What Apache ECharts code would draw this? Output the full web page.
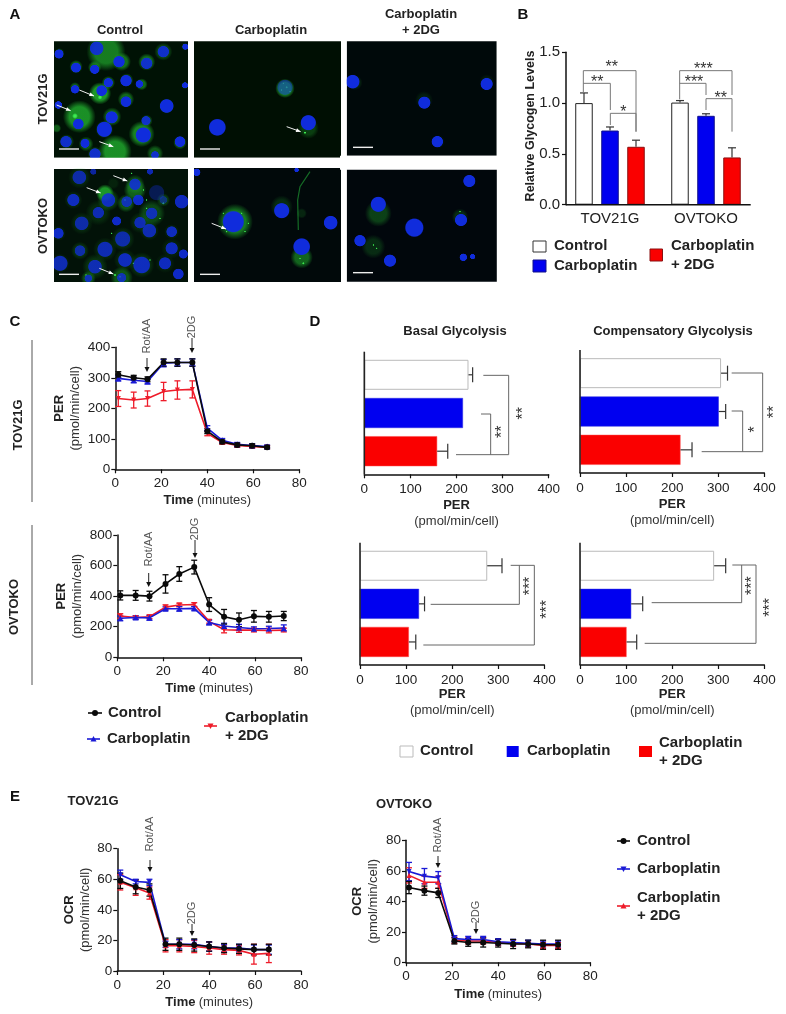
<!DOCTYPE html>
<html><head><meta charset="utf-8">
<style>html,body{margin:0;padding:0;background:#fff}#c{width:786px;height:1014px}</style>
<script src="https://cdn.jsdelivr.net/npm/echarts@6/dist/echarts.min.js"></script>
</head><body><div id="c"></div>
<script>
// ---------- data ----------
const groupNames = ['Control','Carboplatin','Carboplatin + 2DG'];
const cellLines = ['TOV21G','OVTOKO'];
const glycogenControl = [1.00,1.005];
const glycogenCarbo = [0.73,0.875];
const glycogenCarbo2dg = [0.57,0.465];
const glycogenControlErr = [0.10,0.02];
const glycogenCarboErr = [0.035,0.02];
const glycogenCarbo2dgErr = [0.065,0.095];

const time11 = [1.3,8,14,21,27,33.5,40,46.5,53,59.5,66];
const time12 = [1.3,8,14,21,27,33.5,40,46.5,53,59.5,66,72.5];

const perTovControl = [310,300,295,350,350,350,125,90,80,77,72];
const perTovControlErr = [10,8,8,12,12,12,8,6,6,6,5];
const perTovCarbo = [298,292,288,348,350,350,135,95,82,78,75];
const perTovCarboErr = [8,8,8,12,12,12,8,6,6,6,5];
const perTovCarbo2dg = [232,227,232,255,260,262,118,88,78,75,72];
const perTovCarbo2dgErr = [26,26,25,30,30,28,8,6,6,6,5];

const perOvtControl = [405,405,400,480,545,590,345,265,245,268,265,270];
const perOvtControlErr = [30,32,32,60,48,45,45,48,45,38,35,30];
const perOvtCarbo = [255,260,258,318,318,320,228,205,195,187,188,192];
const perOvtCarboErr = [15,12,15,12,15,12,15,18,20,12,15,20];
const perOvtCarbo2dg = [270,260,265,328,342,345,235,180,178,178,175,178];
const perOvtCarbo2dgErr = [15,10,12,15,12,12,12,20,15,12,15,12];

const basalTov = [226,214,158];
const basalTovErrEnd = [235,214,181];
const compTov = [306,301,218];
const compTovErrEnd = [320,316,243];
const basalOvt = [276,128,106];
const basalOvtErrEnd = [308,140,121];
const compOvt = [291,111,101];
const compOvtErrEnd = [316,136,123];

const ocrTovControl = [59,55,53,17.5,17.5,17,16,15,14.5,14,14];
const ocrTovControlErr = [5,4.5,4,4,4,4,3,3,3,3.5,3.5];
const ocrTovCarbo = [63,58.5,58,17.5,17.5,17.5,16,15,15,14,14];
const ocrTovCarboErr = [3,1.5,2,2,3,3,3,2.5,2.5,3,3];
const ocrTovCarbo2dg = [58,54.5,51,16.5,16.5,16,15,14,13.5,11,11.5];
const ocrTovCarbo2dgErr = [5,5,4,4,4,4,4,3,3,6.5,6];

const ocrOvtControl = [49,47,45.5,14,13,13,12.5,12,12,11.5,11.5];
const ocrOvtControlErr = [4,3,3,2,2.5,3,2.5,3,2.5,3,3];
const ocrOvtCarbo = [59.5,56.5,55.5,15.5,15,15,13.5,13,12.5,12,12];
const ocrOvtCarboErr = [6,5,4,2,2,2,2,2,2,2,2];
const ocrOvtCarbo2dg = [57,52.5,52.5,14.5,14,14,13,12.5,12,11,11];
const ocrOvtCarbo2dgErr = [5,4,4,2,2,2,2,2,2,2,2];

// ---------- style ----------
const FONT = '"Liberation Sans", Arial, sans-serif';
const BLACK='#0a0a0a', BLUE='#1a1ad6', RED='#ee1c2a', BAR_BLUE='#0000f0', BAR_RED='#fa0000';
const INK='#222';
const LEG=15;

const grid=[], xAxis=[], yAxis=[], series=[], g=[];

// ---------- graphic helpers ----------
function txt(x,y,s,o={}){
  g.push({type:'text',x,y,rotation:o.rot?Math.PI/2:0,z:o.z||50,silent:true,
    style:{text:s,fill:o.c||INK,align:o.a||'center',verticalAlign:'middle',
      font:(o.b?'bold ':'')+(o.s||13)+'px '+FONT,lineHeight:o.lh}});
}
function poly(pts,c='#666',w=1,z=40){
  g.push({type:'polyline',z,silent:true,shape:{points:pts},style:{stroke:c,lineWidth:w,fill:null}});
}
function box(x,y,w,h,fill,stroke,z=40){
  g.push({type:'rect',z,silent:true,shape:{x,y,width:w,height:h},style:{fill,stroke:stroke||null,lineWidth:stroke?1:0}});
}
function downArrow(x,y0,y1){
  poly([[x,y0],[x,y1-3]],'#222',1);
  g.push({type:'polygon',z:40,silent:true,shape:{points:[[x-2.5,y1-5],[x+2.5,y1-5],[x,y1]]},style:{fill:'#111'}});
}
function errV(color,cap){
  return function(p,api){
    const c0=api.coord([api.value(0),api.value(1)]),c1=api.coord([api.value(0),api.value(2)]);
    const st={stroke:color,lineWidth:1.3};
    const L=(a,b,c,d)=>({type:'line',shape:{x1:a,y1:b,x2:c,y2:d},style:st});
    return {type:'group',children:[L(c0[0],c0[1],c1[0],c1[1]),L(c0[0]-cap,c0[1],c0[0]+cap,c0[1]),L(c1[0]-cap,c1[1],c1[0]+cap,c1[1])]};
  };
}
function axisBase(margin){
  return {axisLine:{show:true,onZero:false,lineStyle:{color:'#111',width:1.5}},
    axisTick:{show:true,length:4,lineStyle:{color:'#111',width:1.2}},
    axisLabel:{color:INK,fontSize:13.5,fontFamily:FONT,margin:margin},splitLine:{show:false}};
}
const nameRich={b:{fontWeight:'bold',fontSize:13,fontFamily:FONT,color:INK,lineHeight:16},
                r:{fontSize:13,fontFamily:FONT,color:'#333',lineHeight:16}};

function lineChart(c){
  const i=grid.length;
  grid.push({left:c.l,top:c.t,width:c.w,height:c.h});
  xAxis.push(Object.assign(axisBase(7),{gridIndex:i,type:'value',min:0,max:80,interval:20,
    name:'{b|Time} {r|(minutes)}',nameLocation:'middle',nameGap:c.xGap||23,nameTextStyle:{rich:nameRich}}));
  yAxis.push(Object.assign(axisBase(5),{gridIndex:i,type:'value',min:0,max:c.max,interval:c.step,
    name:'{b|'+c.title+'}\n{r|(pmol/min/cell)}',nameLocation:'middle',nameRotate:90,nameGap:c.yGap||35,nameTextStyle:{rich:nameRich}}));
  c.lines.forEach(s=>{
    series.push({type:'custom',name:s.name+' SEM',xAxisIndex:i,yAxisIndex:i,clip:false,z:2,
      renderItem:errV(s.color,3),encode:{x:0,y:[1,2]},
      data:c.x.map((t,k)=>[t,s.v[k]-s.e[k],s.v[k]+s.e[k]])});
    series.push({type:'line',name:s.name,xAxisIndex:i,yAxisIndex:i,z:3,symbol:s.sym,symbolSize:s.size||6,
      symbolRotate:s.rot||0,lineStyle:{color:s.color,width:1.6},itemStyle:{color:s.color},
      data:c.x.map((t,k)=>[t,s.v[k]]),animation:false});
  });
}

function hBar(c){
  const i=grid.length;
  grid.push({left:c.l,top:c.t+4,width:184.4,height:c.h-8});
  xAxis.push(Object.assign(axisBase(8),{gridIndex:i,type:'value',min:0,max:400,interval:100,offset:4,
    name:'{b|PER}\n{r|(pmol/min/cell)}',nameLocation:'middle',nameGap:c.gap,nameTextStyle:{rich:nameRich}}));
  yAxis.push({gridIndex:i,type:'category',inverse:true,data:groupNames,axisLabel:{show:false},axisTick:{show:false},axisLine:{show:false}});
  const styles=[{color:'#fff',borderColor:'#bbb',borderWidth:1},{color:BAR_BLUE,borderColor:'#2a2ae0',borderWidth:.5},{color:BAR_RED,borderColor:'#f44',borderWidth:.5}];
  series.push({type:'bar',name:c.name,xAxisIndex:i,yAxisIndex:i,barWidth:30,z:2,
    data:c.v.map((v,k)=>({value:v,itemStyle:styles[k]}))});
  series.push({type:'custom',name:c.name+' SEM',xAxisIndex:i,yAxisIndex:i,z:3,clip:false,
    encode:{x:[1,2],y:0},
    renderItem:function(p,api){
      const a=api.coord([api.value(1),api.value(0)]),b=api.coord([api.value(2),api.value(0)]);
      const st={stroke:'#333',lineWidth:1.2};
      return {type:'group',children:[{type:'line',shape:{x1:a[0],y1:a[1],x2:b[0],y2:b[1]},style:st},
        {type:'line',shape:{x1:b[0],y1:b[1]-7.5,x2:b[0],y2:b[1]+7.5},style:st}]};
    },
    data:c.v.map((v,k)=>[k,v,c.err[k]]).filter(d=>d[2]>d[1])});
  poly([[c.l,c.t],[c.l,c.t+c.h]],'#222',1.6);
}

// ---------- panel B ----------
(function(){
  const i=grid.length;
  grid.push({left:562,top:52.3,width:192,height:152.4});
  xAxis.push({gridIndex:i,type:'category',data:cellLines,axisLine:{show:false},axisTick:{show:false},
    axisLabel:{color:INK,fontSize:15,fontFamily:FONT,margin:7}});
  yAxis.push(Object.assign(axisBase(5),{gridIndex:i,type:'value',min:0,max:1.5,interval:0.5,offset:-4,
    axisLabel:{color:INK,fontSize:15,fontFamily:FONT,margin:6,formatter:v=>v.toFixed(1)}}));
  const sets=[[groupNames[0],glycogenControl,glycogenControlErr,'#fff','#222',-26],
              [groupNames[1],glycogenCarbo,glycogenCarboErr,BAR_BLUE,'#11118a',0],
              [groupNames[2],glycogenCarbo2dg,glycogenCarbo2dgErr,BAR_RED,'#8a1010',26]];
  sets.forEach(s=>{
    series.push({type:'bar',name:s[0],xAxisIndex:i,yAxisIndex:i,barWidth:17.5,barGap:'48.6%',z:2,
      itemStyle:{color:s[3],borderColor:s[4],borderWidth:1},data:s[1]});
  });
  sets.forEach(s=>{
    series.push({type:'custom',name:s[0]+' SEM',xAxisIndex:i,yAxisIndex:i,z:1,clip:false,encode:{x:0,y:[1,2]},
      renderItem:function(p,api){
        const a=api.coord([api.value(0),api.value(1)]),b=api.coord([api.value(0),api.value(2)]);
        const x=a[0]+s[5],st={stroke:'#333',lineWidth:1.2};
        return {type:'group',children:[{type:'line',shape:{x1:x,y1:a[1],x2:x,y2:b[1]},style:st},
          {type:'line',shape:{x1:x-4,y1:b[1],x2:x+4,y2:b[1]},style:st}]};
      },
      data:s[1].map((v,k)=>[k,v,v+s[2][k]])});
  });
  poly([[566,204.7],[750.7,204.7]],'#111',1.5);
  txt(531,126,'Relative Glycogen Levels',{rot:1,b:1,s:12.5});
  // brackets (3× crop coordinates, origin 510,0)
  const Z=(a)=>a.map(p=>[510+p[0]/3,p[1]/3]);
  [[[220,278],[220,212],[378,212],[378,395]],[[220,250],[301,250],[301,330]],
   [[301,375],[301,340],[378,340],[378,395]],[[509,298],[509,212],[666,212],[666,285]],
   [[509,250],[588,250],[588,285]],[[588,330],[588,296],[666,296],[666,395]]].forEach(p=>poly(Z(p),'#777',1));
  [[305,190,'**'],[262,235,'**'],[340,325,'*'],[580,198,'***'],[552,237,'***'],[632,283,'**']]
    .forEach(t=>txt(510+t[0]/3,t[1]/3+4,t[2],{s:16,c:'#333'}));
  // legend
  box(533,241,13,11,'#fff','#333'); txt(554,246,groupNames[0],{a:'left',s:LEG,b:1});
  box(533,260,13,12,BAR_BLUE,'#11118a'); txt(554,266,groupNames[1],{a:'left',s:LEG,b:1});
  box(650,249,12.5,12,BAR_RED,'#8a1010'); txt(671,246,'Carboplatin',{a:'left',s:LEG,b:1}); txt(671,265,'+ 2DG',{a:'left',s:LEG,b:1});
})();

// ---------- panel C ----------
lineChart({l:115.3,t:347.3,w:184,h:122,max:400,step:100,title:'PER',x:time11,yGap:32,lines:[
  {name:groupNames[2],v:perTovCarbo2dg,e:perTovCarbo2dgErr,color:RED,sym:'triangle',rot:180,size:5},
  {name:groupNames[1],v:perTovCarbo,e:perTovCarboErr,color:BLUE,sym:'triangle',size:6},
  {name:groupNames[0],v:perTovControl,e:perTovControlErr,color:BLACK,sym:'circle'}]});
lineChart({l:117.3,t:535,w:183.7,h:122.3,max:800,step:200,title:'PER',x:time12,yGap:32,xGap:23,lines:[
  {name:groupNames[2],v:perOvtCarbo2dg,e:perOvtCarbo2dgErr,color:RED,sym:'triangle',rot:180,size:5},
  {name:groupNames[1],v:perOvtCarbo,e:perOvtCarboErr,color:BLUE,sym:'triangle',size:6},
  {name:groupNames[0],v:perOvtControl,e:perOvtControlErr,color:BLACK,sym:'circle'}]});

function rotLabel(x,y,s){txt(x,y,s,{rot:1,s:11,c:'#555'});}
rotLabel(147,336,'Rot/AA'); downArrow(147,358,372);
rotLabel(192,327,'2DG'); downArrow(192,338,353);
rotLabel(148.7,549,'Rot/AA'); downArrow(148.7,573,587);
rotLabel(195,529,'2DG'); downArrow(195,540,558);
poly([[32,340],[32,502]],'#555',1); poly([[32,525],[32,685]],'#555',1);
txt(18,425,'TOV21G',{rot:1,b:1,s:13}); txt(14,607,'OVTOKO',{rot:1,b:1,s:13});

function legLine(x0,x1,y,color,sym,rot){
  poly([[x0,y],[x1,y]],color,1.6);
  if(sym==='c') g.push({type:'circle',z:41,silent:true,shape:{cx:(x0+x1)/2,cy:y,r:3},style:{fill:color}});
  else{const m=(x0+x1)/2,d=rot?-1:1;
    g.push({type:'polygon',z:41,silent:true,shape:{points:[[m-3,y+2.5*d],[m+3,y+2.5*d],[m,y-3*d]]},style:{fill:color}});}
}
legLine(88,102,713,BLACK,'c'); txt(108,713,groupNames[0],{a:'left',s:LEG,b:1});
legLine(87,100,739,BLUE,'t',0); txt(107,739,groupNames[1],{a:'left',s:LEG,b:1});
legLine(204,217,726,RED,'t',1); txt(225,718,'Carboplatin',{a:'left',s:LEG,b:1}); txt(225,736,'+ 2DG',{a:'left',s:LEG,b:1});

// ---------- panel D ----------
hBar({name:'Basal Glycolysis TOV21G',l:364.3,t:351.7,h:122.6,v:basalTov,err:basalTovErrEnd,gap:23});
hBar({name:'Compensatory Glycolysis TOV21G',l:580,t:350,h:123,v:compTov,err:compTovErrEnd,gap:23});
hBar({name:'Basal Glycolysis OVTOKO',l:360,t:542.7,h:122.3,v:basalOvt,err:basalOvtErrEnd,gap:20});
hBar({name:'Compensatory Glycolysis OVTOKO',l:580,t:542.7,h:122.3,v:compOvt,err:compOvtErrEnd,gap:20});
txt(455,331,'Basal Glycolysis',{b:1,s:13}); txt(673,331,'Compensatory Glycolysis',{b:1,s:13});
{
  const A=a=>a.map(p=>[310+p[0]/3,310+p[1]/3]), B=a=>a.map(p=>[310+p[0]/3,530+p[1]/3]);
  poly(A([[520,196],[596,196],[596,434],[438,434]]));
  poly(A([[513,312],[542,312],[542,434]]));
  poly(A([[1265,189],[1358,189],[1358,425],[1175,425]]));
  poly(A([[1265,303],[1298,303],[1298,425]]));
  poly(B([[602,106],[673,106],[673,345],[340,345]]));
  poly(B([[628,106],[628,223],[362,223]]));
  poly(B([[1267,105],[1338,105],[1338,340],[1004,340]]));
  poly(B([[1295,105],[1295,218],[1025,218]]));
  const star=(x,y,s)=>txt(x+4,y,s,{rot:1,s:16,c:'#333'});
  star(310+628/3,310+310/3,'**'); star(310+566/3,310+365/3,'**');
  star(310+1383/3,310+306/3,'**'); star(310+1325/3,310+358/3,'*');
  star(310+650/3,530+168/3,'***'); star(310+700/3,530+238/3,'***');
  star(310+1317/3,530+167/3,'***'); star(310+1369/3,530+232/3,'***');
}
box(400,746,13,11,'#fff','#bbb'); txt(420,751,groupNames[0],{a:'left',s:LEG,b:1});
box(506.7,746,12,11,BAR_BLUE); txt(527,751,groupNames[1],{a:'left',s:LEG,b:1});
box(639,746,13,11,BAR_RED); txt(659,743,'Carboplatin',{a:'left',s:LEG,b:1}); txt(659,761,'+ 2DG',{a:'left',s:LEG,b:1});

// ---------- panel E ----------
lineChart({l:117.3,t:848.7,w:183.7,h:122.3,max:80,step:20,title:'OCR',x:time11,yGap:24,xGap:23,lines:[
  {name:groupNames[2],v:ocrTovCarbo2dg,e:ocrTovCarbo2dgErr,color:RED,sym:'triangle',size:5},
  {name:groupNames[1],v:ocrTovCarbo,e:ocrTovCarboErr,color:BLUE,sym:'triangle',rot:180,size:5},
  {name:groupNames[0],v:ocrTovControl,e:ocrTovControlErr,color:BLACK,sym:'circle'}]});
lineChart({l:406,t:840.3,w:184.3,h:122,max:80,step:20,title:'OCR',x:time11,yGap:25,xGap:24,lines:[
  {name:groupNames[2],v:ocrOvtCarbo2dg,e:ocrOvtCarbo2dgErr,color:RED,sym:'triangle',size:5},
  {name:groupNames[1],v:ocrOvtCarbo,e:ocrOvtCarboErr,color:BLUE,sym:'triangle',rot:180,size:5},
  {name:groupNames[0],v:ocrOvtControl,e:ocrOvtControlErr,color:BLACK,sym:'circle'}]});
rotLabel(150,834,'Rot/AA'); downArrow(150,860,872);
rotLabel(192,913,'2DG'); downArrow(192,924,936);
rotLabel(438,835,'Rot/AA'); downArrow(438,856,868);
rotLabel(476,912,'2DG'); downArrow(476,922,934);
txt(93,801,cellLines[0],{b:1,s:13}); txt(404,804,cellLines[1],{b:1,s:13});
legLine(617,630,841,BLACK,'c'); txt(637,841,groupNames[0],{a:'left',s:LEG,b:1});
legLine(617,630,869,BLUE,'t',1); txt(637,869,groupNames[1],{a:'left',s:LEG,b:1});
legLine(617,630,906,RED,'t',0); txt(637,898,'Carboplatin',{a:'left',s:LEG,b:1}); txt(637,916,'+ 2DG',{a:'left',s:LEG,b:1});

// panel letters
[['A',15,15],['B',523,15],['C',15,322],['D',315,322],['E',15,797]].forEach(p=>txt(p[1],p[2],p[0],{b:1,s:15,c:'#111'}));

// ---------- panel A: fluorescence micrographs (drawn as soft ellipses, 3× crop coordinates) ----------
const fields=[[54,41.3,134,116.4,'#001205'],[194,41.3,147,116.4,'#000f03'],[346.7,41.3,150,114.4,'#00090a'],
              [54,169,134,113,'#021208'],[193.3,168,147.7,114.3,'#01090a'],[346.7,168,150.3,113.7,'#01070c']];
const greenGlow=[ // x,y,r,alpha
 [318,155,52,.8],[178,160,14,.5],[365,185,25,.7],[228,200,18,.65],[284,202,18,.65],[440,186,23,.7],[490,155,24,.45],[555,140,10,.4],
 [325,248,18,.65],[380,240,18,.55],[425,253,16,.65],[225,262,14,.55],[300,280,30,1],[378,298,22,.65],[238,350,44,.95],[336,350,25,.65],
 [500,318,20,.55],[440,362,16,.55],[313,388,24,.45],[425,402,35,.85],[200,425,20,.45],[258,432,20,.55],[540,428,18,.65],[345,455,45,.95],
 [465,460,22,.55],[285,462,20,.45],[555,256,10,.45],[170,385,12,.55],
 [855,265,26,1],[925,385,28,.35],
 [1065,248,20,.22],[1272,300,24,.15],[1460,245,20,.12],[1315,425,18,.1],
 [238,532,30,.18],[325,600,30,.35],[405,553,26,.45],[220,600,24,.2],[295,638,34,.18],[455,640,36,.4],[245,670,30,.18],[420,668,28,.18],
 [448,692,26,.18],[175,700,20,.18],[515,695,20,.18],[368,717,32,.22],[240,752,24,.25],[315,748,32,.18],[515,745,28,.12],[375,780,30,.18],
 [425,795,34,.25],[180,790,26,.18],[285,800,34,.25],[495,790,26,.12],[365,833,30,.5],[265,835,20,.45],
 [315,580,24,1],[405,570,30,.6],[378,610,24,.5],[490,600,18,.35],[340,550,16,.12],
 [705,665,48,.8],[845,620,30,.25],[905,772,30,.65],[905,640,14,.2],
 [1135,640,36,.4],[1380,650,22,.25],[1120,740,32,.25]];
const blueNuclei=[ // x,y,rx,ry,alpha,rotation
 [290,145,18,18,.9],[177,162,12,14,1],[357,185,17,15,1],[228,203,16,13,1],[284,208,17,12,1],[440,190,17,15,.9],[490,155,20,15,.9],[556,140,8,12,1],
 [325,248,12,15,1],[378,242,15,18,1],[418,252,10,14,1],[225,268,11,17,1],[305,272,24,14,1],[378,305,18,14,1],[235,372,22,14,1],[335,352,20,16,1],
 [500,318,19,18,1],[438,362,14,12,.9],[313,388,20,22,1],[430,405,24,20,1],[198,425,16,15,.9],[255,430,12,17,1],[540,425,14,14,1],[285,462,18,15,.9],
 [465,465,15,10,.9],[175,315,10,14,1],[555,256,8,14,1],
 [855,262,20,20,.5],[652,382,25,22,1],[925,368,27,20,1],
 [1058,245,18,22,1],[1460,252,20,16,1],[1273,308,22,16,1],[1312,425,22,15,1],
 [238,532,20,18,.75],[325,600,22,18,.85],[405,553,15,22,.85],[470,578,20,24,.35],[415,600,14,18,.9],[380,605,14,20,.8],[220,600,17,16,.85],[545,605,18,18,.85],
 [295,638,25,15,.8],[350,663,12,12,.9],[455,640,22,15,.8],[490,600,10,12,.5],[245,670,20,18,.75],[420,668,15,22,.8],[448,692,18,18,.8],[175,700,14,18,.9],
 [515,695,14,20,.85],[368,717,20,22,.75],[240,752,14,24,.75],[315,748,20,25,.8],[515,745,20,16,.85],[550,762,12,16,.9],[375,780,22,18,.85],[425,795,24,22,.85],
 [180,790,20,22,.8],[285,800,18,24,.8],[495,790,20,16,.85],[535,822,22,14,.9],[365,833,18,12,.8],[265,835,14,10,.8],[450,515,20,8,.8],[280,515,15,8,.7],
 [700,665,28,28,1],[845,632,22,20,1],[905,740,22,40,1],[992,668,18,22,1],[590,517,10,10,1],[890,510,12,6,1],
 [1135,613,28,20,1],[1243,683,24,32,1],[1383,660,16,22,1],[1408,543,16,24,1],[1080,722,35,15,1,-.6],[1170,782,25,16,1,-.4],[1390,772,10,10,1],[1418,770,7,8,1]];
const greenSpecks=[[915,398,4],[225,348,9],[300,292,7],[860,262,4],[845,270,3],[870,275,3],[850,250,3],
 [395,520,3],[440,625,3],[480,655,3],[430,570,3],[440,600,3],[375,600,4],[490,610,4],[725,640,3],[745,670,3],[680,695,3],[735,695,3],[670,640,3],[910,790,4],[900,775,3],[1120,735,3],[1130,745,3],[1380,635,3],[360,830,4],[345,825,4],[258,825,3],[335,700,3],[400,790,3],[450,780,3]];
const whiteArrows=[[238,270,282,288],[170,315,212,332],[298,425,340,440],[860,380,902,395],[340,527,382,543],[260,563,302,579],[298,805,340,822],[635,670,678,687]];
const scaleBars=[[177,447],[600,447],[1059,442],[177,823],[600,823],[1059,818]];

function soft(x,y,rx,ry,rot,rgb,a,core,z){
  g.push({type:'ellipse',z,silent:true,x:x/3,y:y/3,rotation:rot||0,shape:{cx:0,cy:0,rx:rx/3,ry:ry/3},
    style:{fill:{type:'radial',x:.5,y:.5,r:.5,colorStops:[
      {offset:0,color:`rgba(${rgb},${a})`},{offset:core,color:`rgba(${rgb},${a})`},{offset:1,color:`rgba(${rgb},0)`}]}}});
}
fields.forEach(f=>box(f[0],f[1],f[2],f[3],f[4],null,1));
greenGlow.forEach(c=>soft(c[0],c[1],c[2]*1.12,c[2]*1.12,0,'28,150,40',c[3],.6,2));
poly([[930,515],[900,560],[893,600],[895,690]].map(p=>[p[0]/3,p[1]/3]),'rgba(30,150,50,.7)',1.2,3);
greenSpecks.forEach(c=>soft(c[0],c[1],c[2],c[2],0,'60,235,80',1,.4,3));
blueNuclei.forEach(c=>soft(c[0],c[1],c[2]*1.2,c[3]*1.2,c[5],'16,44,220',c[4],.88,4));
// keep the soft cells inside their fields
[[28,22,26,270],[188,22,6,270],[341,22,5.7,270],[496.8,22,14,270],[28,157.7,470,10.3],[54,22,445,19],[340,155.7,160,14],[28,282,480,14]]
  .forEach(m=>box(m[0],m[1],m[2],m[3],'#fff',null,6));
whiteArrows.forEach(a=>{
  const x0=a[0]/3,y0=a[1]/3,x1=a[2]/3,y1=a[3]/3,t=Math.atan2(y1-y0,x1-x0),hs=5;
  poly([[x0,y0],[x1,y1]],'#eee',1,8);
  g.push({type:'polygon',z:8,silent:true,shape:{points:[[x1,y1],
    [x1-hs*Math.cos(t-.4),y1-hs*Math.sin(t-.4)],[x1-hs*Math.cos(t+.4),y1-hs*Math.sin(t+.4)]]},style:{fill:'#fff'}});
});
scaleBars.forEach(s=>poly([[s[0]/3,s[1]/3],[(s[0]+60)/3,s[1]/3]],'#eee',1.4,8));
txt(120,30.5,'Control',{b:1,s:13}); txt(271,30,'Carboplatin',{b:1,s:13});
txt(421,14,'Carboplatin',{b:1,s:13}); txt(421,30,'+ 2DG',{b:1,s:13});
txt(43,99,cellLines[0],{rot:1,b:1,s:13}); txt(43,226,cellLines[1],{rot:1,b:1,s:13});

const chart=echarts.init(document.getElementById('c'),null,{renderer:'canvas',width:786,height:1014});
chart.setOption({backgroundColor:'#fff',animation:false,textStyle:{fontFamily:FONT},grid,xAxis,yAxis,series,graphic:{elements:g}});
</script></body></html>
